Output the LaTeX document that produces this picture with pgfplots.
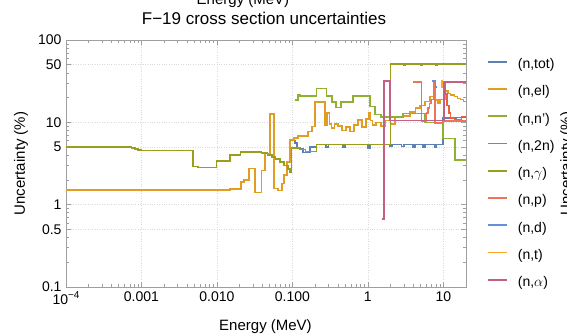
\documentclass[border=0pt]{standalone}
\usepackage{pgfplots}
\pgfplotsset{compat=1.18}
\usepackage{fontspec}
\setmainfont{Liberation Sans}
\definecolor{cTot}{rgb}{0.368,0.507,0.710}
\definecolor{cEl}{rgb}{0.881,0.611,0.142}
\definecolor{cInl}{rgb}{0.560,0.692,0.195}
\definecolor{cTwo}{rgb}{0.922,0.386,0.209}
\definecolor{cGam}{rgb}{0.600,0.620,0.110}
\definecolor{cP}{rgb}{0.930,0.450,0.350}
\definecolor{cD}{rgb}{0.400,0.560,0.860}
\definecolor{cT}{rgb}{1.000,0.650,0.150}
\definecolor{cA}{rgb}{0.760,0.380,0.520}
\pgfplotsset{stp/.style={const plot, mark=none, line width=1.6pt, color=#1}}
\begin{document}
\begin{tikzpicture}
\begin{axis}[
  scale only axis, width=400bp, height=247bp,
  xmode=log, ymode=log,
  xmin=1e-4, xmax=20, ymin=0.1, ymax=100,
  /pgf/number format/assume math mode=true,
  xtick={1e-4,1e-3,1e-2,1e-1,1,10},
  xticklabels={10\raisebox{0.45em}{\fontsize{10bp}{10bp}\selectfont −4},0.001,0.010,0.100,1,10},
  minor xtick={2e-4,3e-4,4e-4,5e-4,6e-4,7e-4,8e-4,9e-4,2e-3,3e-3,4e-3,5e-3,6e-3,7e-3,8e-3,9e-3,0.02,0.03,0.04,0.05,0.06,0.07,0.08,0.09,0.2,0.3,0.4,0.5,0.6,0.7,0.8,0.9,2,3,4,5,6,7,8,9,20},
  ytick={0.1,0.5,1,5,10,50,100},
  yticklabels={0.1,0.5,1,5,10,50,100},
  minor ytick={0.2,0.3,0.4,0.6,0.7,0.8,0.9,2,3,4,6,7,8,9,20,30,40,60,70,80,90},
  tick label style={font=\fontsize{14bp}{16bp}\selectfont, black},
  xticklabel style={yshift=-1bp},
  yticklabel style={xshift=-1bp},
  axis line style={gray!75, line width=0.9pt},
  major tick style={gray!75, line width=0.6pt},
  minor tick style={gray!75, line width=0.5pt},
  major tick length=5bp, minor tick length=3bp,
  tick align=inside,
  xmajorgrids, ymajorgrids,
  major grid style={gray!30, dotted, line width=0.6pt},
  legend cell align=left,
  legend style={draw=none, fill=none, at={(1.0525,0.927)}, anchor=north west,
    inner sep=0pt, row sep=13.25bp, column sep=0bp,
    font=\fontsize{14bp}{16bp}\selectfont,
    nodes={inner sep=0pt, text height=10.5bp, text depth=3.5bp}},
  legend image code/.code={\draw[#1, line width=1.8pt] (0bp,3.5bp) -- (19bp,3.5bp); \path (29bp,3.5bp);},
]
% (n,tot)
\addplot[stp=cTot] coordinates {
(0.1,6.0) (0.108,5.6) (0.115,4.8) (0.138,4.3) (0.17,5.0) (0.209,5.4)
(0.28,5.0) (0.30,5.4) (0.47,5.0) (0.50,5.4) (1.0,4.9) (1.06,5.4)
(1.96,5.1) (2.1,5.4) (2.8,5.1) (3.0,5.4) (4.0,5.0) (4.2,5.4)
(5.4,5.0) (5.7,5.4) (7.7,5.0) (8.1,5.4) (9.84,11.2) (15,11.5) (20,11.5)};
\addlegendentry{(n,tot)}
% (n,el)
\addplot[stp=cEl] coordinates {
(1e-4,1.5) (0.0149,1.55) (0.0208,1.9) (0.0228,2.0) (0.0265,2.75) (0.0319,1.4)
(0.039,2.6) (0.0432,4.2) (0.0504,12.6) (0.0569,1.58) (0.0643,1.48) (0.0726,1.8)
(0.077,2.3) (0.0845,3.3) (0.0927,6.1) (0.105,6.5) (0.118,6.8) (0.16,7.7)
(0.181,8.9) (0.2,17.8) (0.269,9.3) (0.29,13) (0.31,9.5) (0.33,8.5) (0.36,9.5)
(0.40,9.0) (0.453,8.0) (0.512,8.8) (0.578,7.7) (0.653,9.3) (0.738,10.7)
(0.834,8.8) (0.94,11) (1.03,13) (1.09,10.5) (1.15,9.3) (1.28,10) (1.5,9)
(1.7,10.5) (2.0,9.5) (2.28,11.5) (2.9,12) (3.6,13.3) (4.3,15) (4.89,16)
(5.7,18) (6.63,20.5) (7.7,18.7) (8.45,17) (9.0,19) (10.5,24) (11.5,22.5)
(12.5,21.5) (14,20.5) (15.5,19.5) (17,19) (18.5,18) (20,18)};
\addlegendentry{(n,el)}
% (n,n')
\addplot[stp=cInl] coordinates {
(0.108,18.7) (0.118,21.5) (0.126,21) (0.209,25.9) (0.284,21) (0.333,17.8)
(0.377,15.1) (0.438,17.8) (0.632,21) (1.06,15.5) (1.24,12.5) (1.49,11.6)
(2.91,12.8) (5.69,10) (9.84,6.4) (14.2,3.5) (20,3.5)};
\addlegendentry{(n,n')}
% (n,2n)
\addplot[stp=cTwo] coordinates {
(10.0,29.8) (10.7,22) (11.2,16) (11.8,13) (12.4,11.2) (14,10.7) (16.6,10.7)
(17.5,11.8) (20,11.8)};
\addlegendentry{(n,2n)}
% (n,gamma)
\addplot[stp=cGam] coordinates {
(1e-4,5.0) (7.4e-4,4.9) (8.2e-4,4.75) (9.0e-4,4.65) (1e-3,4.55) (0.00485,2.9)
(0.0056,2.83) (0.0099,3.42) (0.0149,4.0) (0.0205,4.37) (0.039,4.22)
(0.047,4.0) (0.0535,3.8) (0.060,3.6) (0.068,3.3) (0.077,3.0) (0.087,2.7)
(0.093,2.5) (0.0975,4.9) (0.126,4.7) (0.15,4.4) (0.209,5.4) (2.0,51)
(3.0,50) (3.15,51) (5.0,50) (5.2,51) (8.0,50) (8.3,51) (20,51)};
\addlegendentry{(n,$\gamma$)}
% (n,p)
\addplot[stp=cP] coordinates {
(3.98,30.7) (5.14,10.2) (5.97,13) (6.3,15) (6.6,17) (6.9,19) (7.5,30.7)
(7.7,9.8) (9.84,10.3) (20,10.3)};
\addlegendentry{(n,p)}
% (n,d)
\addplot[stp=cD] coordinates {(6.98,31.6) (7.9,27) (8.1,27)};
\addlegendentry{(n,d)}
% (n,t)
\addplot[stp=cT] coordinates {(9.4,27) (9.6,31.6) (9.84,31.6)};
\addlegendentry{(n,t)}
% (n,alpha)
\addplot[stp=cA] coordinates {
(1.55,0.67) (1.63,31.6) (1.96,10.5) (10.2,31) (20,31)};
\addlegendentry{(n,$\alpha$)}
\end{axis}
\node[anchor=base, font=\fontsize{17bp}{19bp}\selectfont] at (198bp,262bp) {F−19 cross section uncertainties};
\node[anchor=base, font=\fontsize{15bp}{17bp}\selectfont] at (199.5bp,-43bp) {Energy (MeV)};
\node[anchor=base, font=\fontsize{15bp}{17bp}\selectfont] at (177bp,282bp) {Energy (MeV)};
\node[anchor=base, rotate=90, font=\fontsize{15bp}{17bp}\selectfont] at (-41bp,123.5bp) {Uncertainty (\%)};
\node[anchor=base, rotate=90, font=\fontsize{15bp}{17bp}\selectfont] at (505bp,123.5bp) {Uncertainty (\%)};
\pgfresetboundingbox
\useasboundingbox (-66bp,-47bp) rectangle (501bp,287bp);
\end{tikzpicture}
\end{document}
